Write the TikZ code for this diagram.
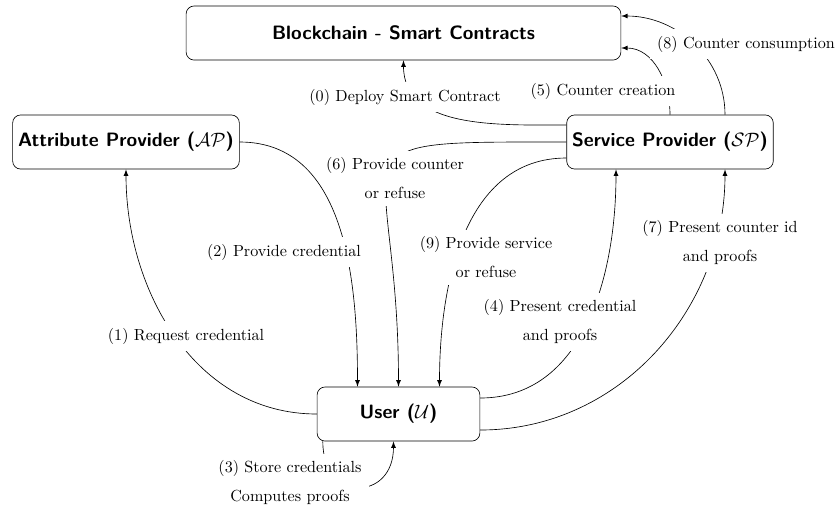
\documentclass[tikz,border=0pt]{standalone}
\usepackage{tikz}
\usetikzlibrary{positioning,calc}

\begin{document}
\begin{tikzpicture}[
	x=0.0218cm, y=0.0218cm,
	>=latex,
	party/.style={draw, rounded corners=5pt, minimum height=1.18cm, align=center, font=\large\sffamily\bfseries},
	msg/.style={fill=white, inner sep=4.5pt, align=center}
	]
	
	\useasboundingbox (0,0) rectangle (838,-506);
	
	% Blockchain
	\node[
	party,
	minimum width=9.48cm
	]
	(chain) at (403.5,-33)
	{Blockchain - Smart Contracts};
	
	% Attribute Provider
	\node[
	party,
	minimum width=4.93cm
	]
	(ap) at (126,-142)
	{Attribute Provider ($\mathcal{AP}$)};
	
	% Service Provider
	\node[
	party,
	minimum width=4.49cm
	]
	(sp) at (670,-142)
	{Service Provider ($\mathcal{SP}$)};
	
	% User
	\node[
	party,
	minimum width=3.55cm
	]
	(user) at (398.5,-414)
	{User ($\mathcal{U}$)};
	
	% (6) Provide counter
	\draw[->] (sp.west) to[out=180,in=90,looseness=2.15] (user.north);
	\node[msg] (counter) at (395,-178.5) {(6) Provide counter\\[6pt]or refuse};
	
	% (0) Deploy
	\draw[->] ($(sp.west)+(0,17)$) to[out=180,in=-90] (chain.south);
	\node[msg] (deploy) at (405,-97) {(0) Deploy Smart Contract};
	
	% (1) Request
	\draw[->] (user.west) to[out=180,in=-90] (ap.south);
	\node[msg] (request) at (186,-336) {(1) Request credential};
	
	% (2) Provide credential
	\draw[->] (ap.east) to[out=0,in=90] ($(user.north)+(-41,0)$);
	\node[msg] (provide) at (284,-252) {(2) Provide credential};
	
	% (3) Store
	\draw[->] ($(user.south west)+(6,0)$) to[out=-90,in=-90,looseness=2.2] ($(user.south)+(-5,0)$);
	\node[msg] (store) at (290,-483) {(3) Store credentials\\[6pt]Computes proofs};
	
	% (4) Present credential
	\draw[->] ($(user.east)+(0,16)$) to[out=0,in=-90] ($(sp.south)+(-54,0)$);
	\node[msg] (present) at (560,-322) {(4) Present credential\\[6pt]and proofs};
	
	% (5) Counter creation
	\draw[->] (sp.north) to[out=90,in=0] ($(chain.east)+(0,-15)$);
	\node[msg] (create) at (603,-91) {(5) Counter creation};
	
	% (7) Present counter id
	\draw[->] ($(user.east)+(0,-16)$) to[out=0,in=-90] ($(sp.south)+(55,0)$);
	\node[msg] (counterid) at (720,-243) {(7) Present counter id\\[6pt]and proofs};
	
	% (8) Counter consumption
	\draw[->] ($(sp.north)+(55,0)$) to[out=90,in=0] ($(chain.east)+(0,17)$);
	\node[msg] (consume) at (746,-44) {(8) Counter consumption};
	
	% (9) Provide service
	\draw[->] ($(sp.west)+(0,-16)$) to[out=180,in=90] ($(user.north)+(41,0)$);
	\node[msg] (service) at (486,-257.5) {(9) Provide service\\[6pt]or refuse};
	
\end{tikzpicture}
\end{document}
